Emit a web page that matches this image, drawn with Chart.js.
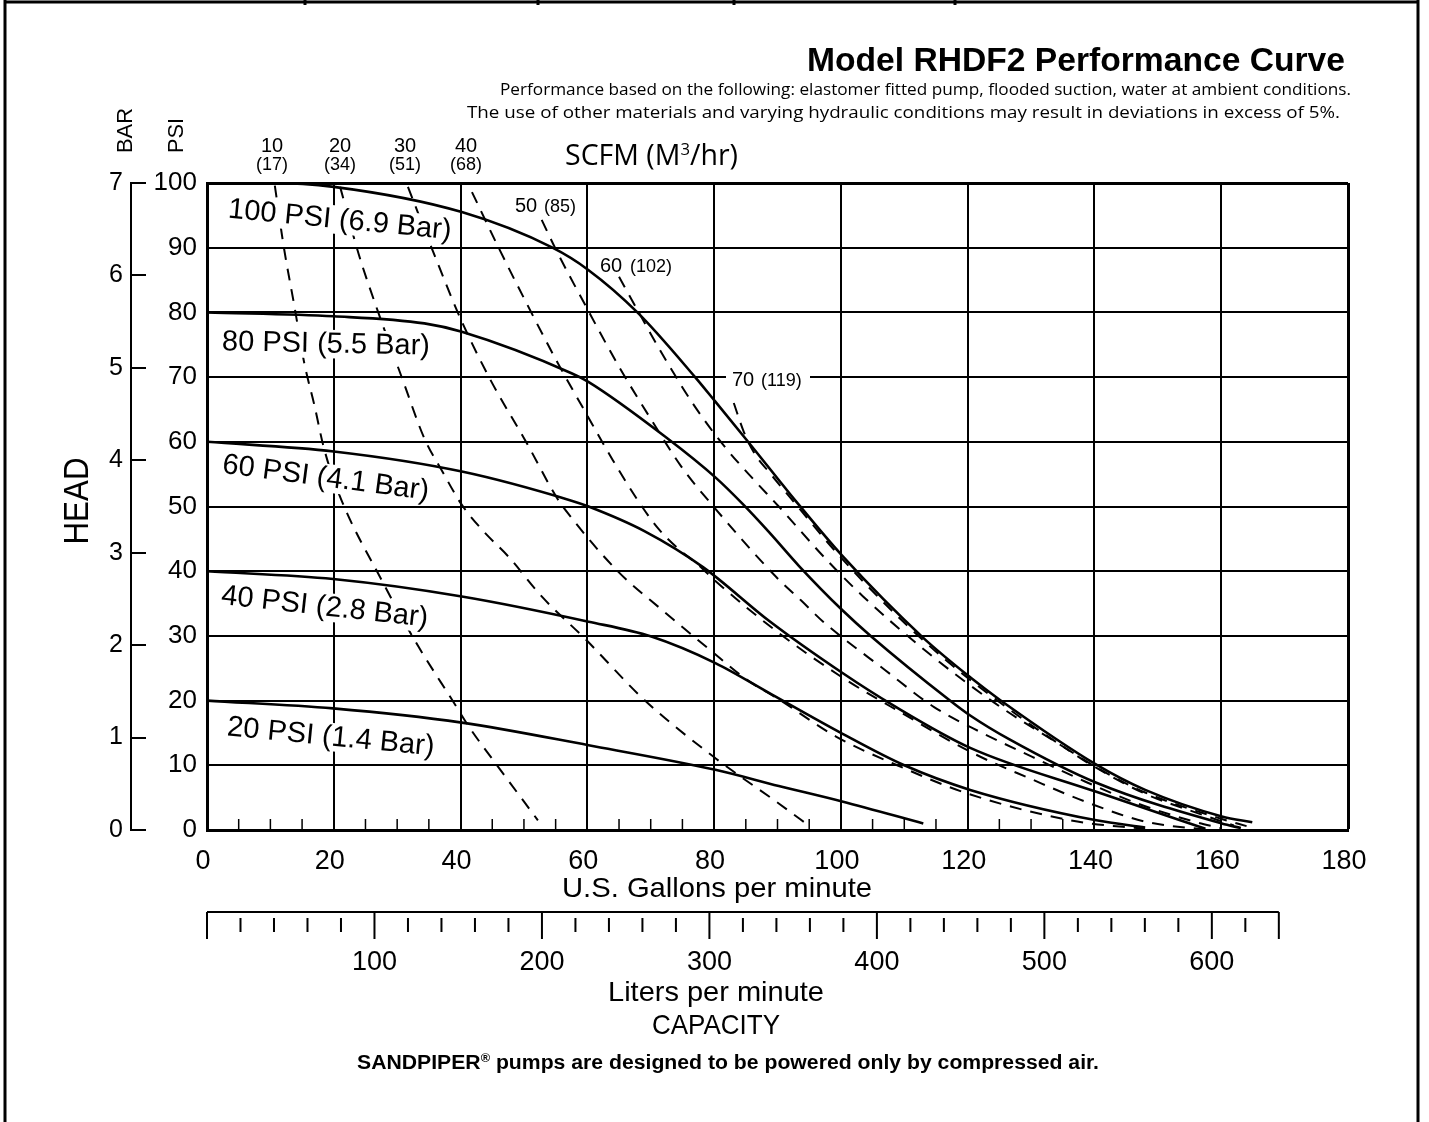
<!DOCTYPE html>
<html>
<head>
<meta charset="utf-8">
<title>Model RHDF2 Performance Curve</title>
<script src="https://cdn.jsdelivr.net/npm/chart.js@4.4.1/dist/chart.umd.min.js"></script>
<style>
  html, body { margin: 0; padding: 0; background: #fff; }
  #wrap { position: relative; width: 1429px; height: 1122px; }
</style>
</head>
<body>
<div id="wrap"><canvas id="curve" width="1429" height="1122"></canvas></div>
<script>
// ---- values ----
const LPM_PER_GPM = 3.785;

const gpmTicks = [0, 20, 40, 60, 80, 100, 120, 140, 160, 180];
const psiTicks = [0, 10, 20, 30, 40, 50, 60, 70, 80, 90, 100];
const barTicks = [0, 1, 2, 3, 4, 5, 6, 7];
const lpmLabels = [100, 200, 300, 400, 500, 600];
const lpmEnd = 640;        // liters axis stops here
const gpmMinorEnd = 135;   // small ticks on the gpm axis, every 5

// pump curves at inlet air pressure, [gpm, psi head]
const head100 = [[0, 100], [10, 100], [20, 99.4], [40.2, 95.5], [54.5, 90], [60.1, 86.6], [67.9, 80], [77, 70], [80.2, 66.2], [85.2, 60.2], [90.2, 54.1], [92.5, 51.3], [100.2, 42.4], [113, 29.7], [120.4, 23.6], [125.1, 20.1], [140.3, 10.1], [148, 6.2], [160.1, 2.1], [164.9, 1.2]];
const head80 = [[0, 80], [20, 79.4], [34.3, 78.3], [40.2, 77], [57.5, 70.6], [60.1, 69.3], [72.4, 60.7], [80.2, 54.5], [84.5, 50.4], [88.7, 46], [93.4, 40.8], [100.2, 34], [104.7, 30], [117.1, 20.1], [120.4, 17.7], [126.6, 14], [140.3, 7.3], [160.1, 1], [163.1, 0.3]];
const head60 = [[0, 60], [20, 58.5], [40.2, 55.4], [57.5, 50.9], [60.2, 50], [69, 46.2], [78.3, 40.6], [88.7, 32.3], [100.2, 24.3], [108.2, 19.3], [120.4, 12.7], [140.3, 5.9], [157.5, 0.2]];
const head40 = [[0, 40], [19.9, 38.8], [40.2, 36.1], [60.2, 32.2], [70.1, 29.9], [80.2, 25.8], [89, 21], [100.2, 14.9], [110, 10], [120.4, 6.2], [140.3, 1.5], [148, 0.4]];
const head20 = [[0, 20], [19.9, 18.8], [40.2, 16.6], [60.2, 13.1], [80.2, 9.3], [90.2, 6.8], [100.2, 4.4], [113, 1]];

// air consumption lines (SCFM), [gpm, psi head]
const air10 = [[10.7, 99.6], [12.1, 90.2], [13.8, 80.9], [15.3, 72.4], [17, 65.4], [18.4, 59.2], [21, 51.5], [27.4, 38.9], [32.9, 29.1], [39, 19.6], [41.3, 16], [45.9, 9.8], [52.2, 1.5]];
const air20 = [[21, 99.4], [23.9, 89.1], [26.8, 80.6], [30.9, 69.5], [34.3, 60.5], [37.2, 55.3], [40.1, 50.4], [43.5, 46.3], [47.6, 42.2], [52.8, 36.1], [59.8, 29.4], [69, 20.1], [80.2, 11.1], [90.2, 4.1], [95.2, 0.5]];
const air30 = [[31.7, 99.4], [36.6, 87.1], [40.1, 78.8], [44.7, 69.6], [50.5, 59.7], [55.1, 51.5], [56.9, 49], [64.9, 39.9], [71.8, 34], [79.4, 27.8], [85.2, 23.2], [90.2, 20.2], [99.3, 14.4], [108.2, 10.3], [120.1, 5.6], [137.3, 1.3], [148, 0.2]];
const air40 = [[41.8, 98.6], [45.9, 90.2], [49.9, 82.4], [55.1, 72.6], [59.8, 64.4], [64, 57.2], [67.8, 51.2], [71, 46.8], [74.2, 43.6], [77.6, 40.9], [80.2, 38.5], [90, 30.6], [100.5, 23.4], [109.4, 18.2], [121, 11.8], [130.2, 7.8], [138.5, 4.4], [148, 1.3], [158, 0]];
const air50 = [[52.8, 94.3], [55.1, 89.6], [59.8, 80.9], [65, 71.6], [70.1, 63.4], [74.8, 56.2], [79.9, 50], [89.8, 39.1], [93.7, 35.5], [97.2, 32.2], [107, 24.7], [114.7, 19], [122.5, 14.9], [130.2, 11.3], [138.5, 7.5], [146.8, 4.1], [155.7, 1.3], [159.8, 0.3]];
const air60 = [[65, 85.5], [67.6, 80.9], [72.4, 72.6], [77, 65.4], [81.7, 59.2], [86.3, 54.1], [90.2, 50], [97.8, 41.7], [103.5, 36.1], [113.6, 27.5], [124.3, 19.6], [135.5, 12.6], [139.1, 10.3], [148, 5.6], [155.7, 2.8], [162, 0.7]];
const air70 = [[83.1, 66], [84.7, 61.5], [86.5, 58], [88.6, 55.4], [92.5, 50.8], [100.2, 41.9], [113, 29.3], [125.1, 19.7], [140.3, 9.7], [148, 5.8], [160.1, 1.7], [164, 0.6]];

const curveNames = ['100 PSI (6.9 Bar)', '80 PSI (5.5 Bar)', '60 PSI (4.1 Bar)', '40 PSI (2.8 Bar)', '20 PSI (1.4 Bar)'];
const scfmTop = ['10', '20', '30', '40'];
const m3hTop = ['(17)', '(34)', '(51)', '(68)'];
const scfmSide = ['50', '60', '70'];
const m3hSide = ['(85)', '(102)', '(119)'];

// ---- drawing ----
const SANS = "'Liberation Sans', Arial, Helvetica, sans-serif";
const MYRIAD = "'Open Sans', 'Noto Sans', sans-serif";
const INK = '#000';

const toXY = pts => pts.map(p => ({ x: p[0], y: p[1] }));

const datasets = [];
[air10, air20, air30, air40, air50, air60, air70].forEach(function (d) {
    datasets.push({
        data: toXY(d), borderColor: INK, borderWidth: 2, borderDash: [12, 9],
        pointRadius: 0, fill: false, cubicInterpolationMode: 'monotone', order: 2
    });
});
[head100, head80, head60, head40, head20].forEach(function (d) {
    datasets.push({
        data: toXY(d), borderColor: INK, borderWidth: 2.6,
        pointRadius: 0, fill: false, cubicInterpolationMode: 'monotone', order: 1
    });
});

function fitText(ctx, text, x, y, width, font, align, rot) {
    ctx.save();
    ctx.font = font;
    const k = width / ctx.measureText(text).width;
    ctx.translate(x, y);
    if (rot) ctx.rotate(rot);
    ctx.scale(k, 1);
    ctx.textAlign = align || 'left';
    ctx.textBaseline = 'alphabetic';
    ctx.fillText(text, 0, 0);
    ctx.restore();
}

function fitSegments(ctx, segs, x, y, width) {
    ctx.save();
    let total = 0;
    segs.forEach(function (s) { ctx.font = s.font; s.w = ctx.measureText(s.t).width; total += s.w; });
    ctx.translate(x, y);
    ctx.scale(width / total, 1);
    ctx.textAlign = 'left';
    ctx.textBaseline = 'alphabetic';
    let cx = 0;
    segs.forEach(function (s) { ctx.font = s.font; ctx.fillText(s.t, cx, s.dy || 0); cx += s.w; });
    ctx.restore();
}

function plainText(ctx, text, x, y, size, align) {
    ctx.font = size + 'px ' + SANS;
    ctx.textAlign = align;
    ctx.textBaseline = 'alphabetic';
    ctx.fillText(text, x, y);
}

// curve captions sit on white, so the dashed lines and grid break behind them
const curveLabelPos = [
    { x: 340, y: 218, rot: 5.5 },
    { x: 326, y: 342, rot: 1.2 },
    { x: 326, y: 476, rot: 7.5 },
    { x: 325, y: 605, rot: 6.3 },
    { x: 331, y: 735, rot: 5.5 }
];

function drawCurveLabels(ctx) {
    const size = 29;
    ctx.save();
    ctx.font = size + 'px ' + SANS;
    curveNames.forEach(function (name, i) {
        const p = curveLabelPos[i];
        const w = ctx.measureText(name).width;
        ctx.save();
        ctx.translate(p.x, p.y);
        ctx.rotate(p.rot * Math.PI / 180);
        ctx.fillStyle = '#fff';
        ctx.fillRect(-w / 2 - 2, -0.42 * size, w + 4, 0.98 * size);
        ctx.fillStyle = INK;
        ctx.textAlign = 'center';
        ctx.textBaseline = 'alphabetic';
        ctx.fillText(name, 0, 0.358 * size);
        ctx.restore();
    });
    // side SCFM captions
    const side = [{ x: 515, y: 212, gap: 29 }, { x: 600, y: 272, gap: 30 }, { x: 732, y: 386, gap: 29 }];
    ctx.fillStyle = '#fff';
    ctx.fillRect(726, 367, 84, 22);
    ctx.fillStyle = INK;
    scfmSide.forEach(function (t, i) {
        plainText(ctx, t, side[i].x, side[i].y, 20, 'left');
        plainText(ctx, m3hSide[i], side[i].x + side[i].gap, side[i].y, 18, 'left');
    });
    ctx.restore();
}

const sheetPlugin = {
    id: 'sheet',
    beforeDraw(chart) {
        const ctx = chart.ctx;
        ctx.save();
        ctx.fillStyle = '#fff';
        ctx.fillRect(0, 0, chart.width, chart.height);
        ctx.strokeStyle = INK;
        ctx.lineWidth = 3;
        ctx.beginPath();
        ctx.moveTo(5, 0); ctx.lineTo(5, chart.height);
        ctx.moveTo(1418, 0); ctx.lineTo(1418, chart.height);
        ctx.moveTo(4, 2); ctx.lineTo(1419, 2);
        [305, 538, 734, 955].forEach(function (x) { ctx.moveTo(x, 0); ctx.lineTo(x, 5); });
        ctx.stroke();
        ctx.restore();
    },
    afterDatasetDraw(chart, args) {
        if (args.index === 0) drawCurveLabels(chart.ctx);
    },
    afterDraw(chart) {
        const ctx = chart.ctx;
        const xs = chart.scales.x, bs = chart.scales.bar, ls = chart.scales.lpm;
        const area = chart.chartArea;
        ctx.save();
        ctx.strokeStyle = INK;
        ctx.fillStyle = INK;

        // bar axis spine
        ctx.lineWidth = 2;
        ctx.beginPath();
        const spineX = bs.right - 15;
        ctx.moveTo(spineX, bs.getPixelForValue(7) - 1);
        ctx.lineTo(spineX, bs.getPixelForValue(0) + 1);
        ctx.stroke();

        // small gpm ticks inside the plot
        ctx.lineWidth = 1.5;
        ctx.beginPath();
        for (let v = 5; v <= gpmMinorEnd; v += 5) {
            if (v % 20 === 0) continue;
            const px = xs.getPixelForValue(v);
            ctx.moveTo(px, area.bottom);
            ctx.lineTo(px, area.bottom - 11);
        }
        ctx.stroke();

        // liters per minute scale
        const ly = 912;
        ctx.lineWidth = 2;
        ctx.beginPath();
        ctx.moveTo(ls.getPixelForValue(0), ly);
        ctx.lineTo(ls.getPixelForValue(lpmEnd), ly);
        for (let v = 0; v <= lpmEnd; v += 20) {
            const px = ls.getPixelForValue(v);
            const major = v % 100 === 0 || v === lpmEnd;
            ctx.moveTo(px, major ? ly : ly + 6);
            ctx.lineTo(px, major ? ly + 27 : ly + 20);
        }
        ctx.stroke();
        lpmLabels.forEach(function (v) {
            plainText(ctx, String(v), ls.getPixelForValue(v), 970, 27, 'center');
        });

        // axis words
        fitText(ctx, 'U.S. Gallons per minute', 717, 897, 310, '28px ' + SANS, 'center');
        fitText(ctx, 'Liters per minute', 716, 1001, 216, '28px ' + SANS, 'center');
        fitText(ctx, 'CAPACITY', 716, 1034, 128, '28px ' + SANS, 'center');
        fitText(ctx, 'HEAD', 75 + 0.358 * 35, 501, 87, '35px ' + SANS, 'center', -Math.PI / 2);
        fitText(ctx, 'BAR', 124 + 0.358 * 22, 153, 45, '22px ' + SANS, 'left', -Math.PI / 2);
        fitText(ctx, 'PSI', 175 + 0.358 * 22, 153, 35, '22px ' + SANS, 'left', -Math.PI / 2);

        // SCFM header
        const topX = [272, 340, 405, 466];
        scfmTop.forEach(function (t, i) {
            plainText(ctx, t, topX[i], 152, 20, 'center');
            plainText(ctx, m3hTop[i], topX[i], 170, 18, 'center');
        });
        fitSegments(ctx, [
            { t: 'SCFM (M', font: '29px ' + MYRIAD },
            { t: '3', font: '17px ' + MYRIAD, dy: -10 },
            { t: '/hr)', font: '29px ' + MYRIAD }
        ], 565, 165, 173);

        // headings
        fitText(ctx, 'Model RHDF2 Performance Curve', 1345, 71, 538, 'bold 33px ' + SANS, 'right');
        fitText(ctx, 'Performance based on the following: elastomer fitted pump, flooded suction, water at ambient conditions.', 1351, 95, 851, '16.5px ' + MYRIAD, 'right');
        fitText(ctx, 'The use of other materials and varying hydraulic conditions may result in deviations in excess of 5%.', 1340, 118, 873, '16.5px ' + MYRIAD, 'right');

        fitSegments(ctx, [
            { t: 'SANDPIPER', font: 'bold 20px ' + SANS },
            { t: '\u00AE', font: 'bold 12px ' + SANS, dy: -7 },
            { t: ' pumps are designed to be powered only by compressed air.', font: 'bold 20px ' + SANS }
        ], 357, 1069, 742);
        ctx.restore();
    }
};

const edgeWidth = function (edgeValue) {
    return function (c) { return (c.tick && c.tick.value === edgeValue) ? 3 : 2; };
};

new Chart(document.getElementById('curve'), {
    type: 'line',
    data: { datasets: datasets },
    options: {
        responsive: false,
        animation: false,
        events: [],
        layout: { padding: { left: 55, right: 81, top: 183, bottom: 232 } },
        plugins: { legend: { display: false }, tooltip: { enabled: false } },
        scales: {
            x: {
                type: 'linear', min: 0, max: 180, position: 'bottom',
                afterBuildTicks: function (s) { s.ticks = gpmTicks.map(v => ({ value: v })); },
                afterFit: function (s) { s.height = 60; },
                grid: { color: INK, lineWidth: edgeWidth(180), drawTicks: false },
                border: { color: INK, width: 3 },
                ticks: { color: INK, font: { family: SANS, size: 27 }, padding: 15, labelOffset: -4, maxRotation: 0, autoSkip: false }
            },
            lpm: { type: 'linear', display: false, position: 'bottom', min: 0, max: 180 * LPM_PER_GPM },
            y: {
                type: 'linear', min: 0, max: 100, position: 'left', weight: 0,
                afterBuildTicks: function (s) { s.ticks = psiTicks.map(v => ({ value: v })); },
                afterFit: function (s) { s.width = 61; },
                grid: { color: INK, lineWidth: edgeWidth(100), drawTicks: false },
                border: { color: INK, width: 3 },
                ticks: { color: INK, font: { family: SANS, size: 26 }, padding: 10, autoSkip: false }
            },
            bar: {
                type: 'linear', min: 0, max: 7, position: 'left', weight: 1,
                afterBuildTicks: function (s) { s.ticks = barTicks.map(v => ({ value: v })); },
                afterFit: function (s) { s.width = 91; },
                grid: { drawOnChartArea: false, color: INK, lineWidth: 2, tickLength: 15 },
                border: { display: false },
                ticks: { color: INK, font: { family: SANS, size: 25 }, padding: 8, autoSkip: false }
            }
        }
    },
    plugins: [sheetPlugin]
});
</script>
</body>
</html>
